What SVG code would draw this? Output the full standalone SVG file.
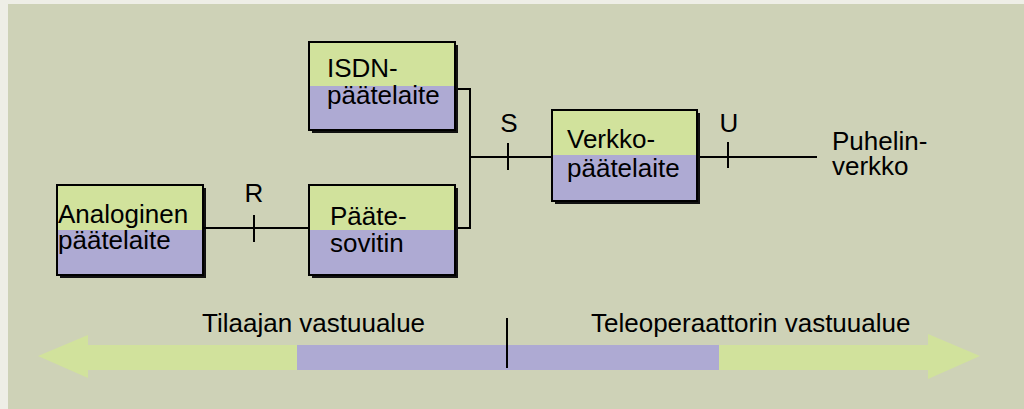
<svg xmlns="http://www.w3.org/2000/svg" width="1024" height="409" viewBox="0 0 1024 409">
<style>
.t{font-family:"Liberation Sans",Arial,sans-serif;font-size:26px;fill:#000}
.m{text-anchor:middle}
.sh{fill:#111}
.g{fill:#d1e29c}
.p{fill:#aeaad3}
.b{fill:none;stroke:#000;stroke-width:2}
.ln{stroke:#000;stroke-width:2;fill:none}
</style>
<rect x="0" y="0" width="1024" height="409" fill="#eeeee6"/>
<rect x="8" y="4" width="1016" height="405" fill="#ced2b7"/>

<g id="isdn">
<rect class="sh" x="312" y="45" width="146" height="88"/>
<rect class="g" x="309" y="42" width="146" height="44"/>
<rect class="p" x="309" y="86" width="146" height="44"/>
<rect class="b" x="309" y="42" width="146" height="88"/>
<text class="t" x="327" y="77">ISDN-</text>
<text class="t" x="327" y="104">päätelaite</text>
</g>

<g id="analoginen">
<rect class="sh" x="60" y="188" width="146" height="90"/>
<rect class="g" x="57" y="185" width="146" height="45"/>
<rect class="p" x="57" y="230" width="146" height="45"/>
<rect class="b" x="57" y="185" width="146" height="90"/>
<text class="t" x="58" y="223">Analoginen</text>
<text class="t" x="58" y="249">päätelaite</text>
</g>

<g id="paatesovitin">
<rect class="sh" x="312" y="188" width="146" height="90"/>
<rect class="g" x="309" y="185" width="146" height="45"/>
<rect class="p" x="309" y="230" width="146" height="45"/>
<rect class="b" x="309" y="185" width="146" height="90"/>
<text class="t" x="330" y="225">Pääte-</text>
<text class="t" x="330" y="252">sovitin</text>
</g>

<g id="verkko">
<rect class="sh" x="555" y="113" width="145" height="91"/>
<rect class="g" x="552" y="110" width="145" height="45"/>
<rect class="p" x="552" y="155" width="145" height="46"/>
<rect class="b" x="552" y="110" width="145" height="91"/>
<text class="t" x="567" y="148">Verkko-</text>
<text class="t" x="567" y="177">päätelaite</text>
</g>

<g id="puhelinverkko">
<text class="t" x="832" y="150">Puhelin-</text>
<text class="t" x="832" y="175">verkko</text>
</g>

<g id="connectors">
<path class="ln" d="M203 228H309"/>
<path class="ln" d="M254 215V242"/>
<path class="ln" d="M458 228H470V89H458"/>
<path class="ln" d="M470 157H552"/>
<path class="ln" d="M508 143V170"/>
<path class="ln" d="M700 157H817"/>
<path class="ln" d="M728 142V168"/>
<text class="t m" x="254" y="202">R</text>
<text class="t m" x="509" y="132">S</text>
<text class="t m" x="729" y="132">U</text>
</g>

<g id="vastuualue">
<polygon fill="#d1e29c" points="38,356 88,335 88,345 928,345 928,334 980,356 928,379 928,370 88,370 88,378"/>
<rect fill="#aeaad3" x="297" y="345" width="422" height="25"/>
<path class="ln" d="M507 318V368"/>
<text class="t" x="202" y="332">Tilaajan vastuualue</text>
<text class="t" x="591" y="332">Teleoperaattorin vastuualue</text>
</g>
</svg>
